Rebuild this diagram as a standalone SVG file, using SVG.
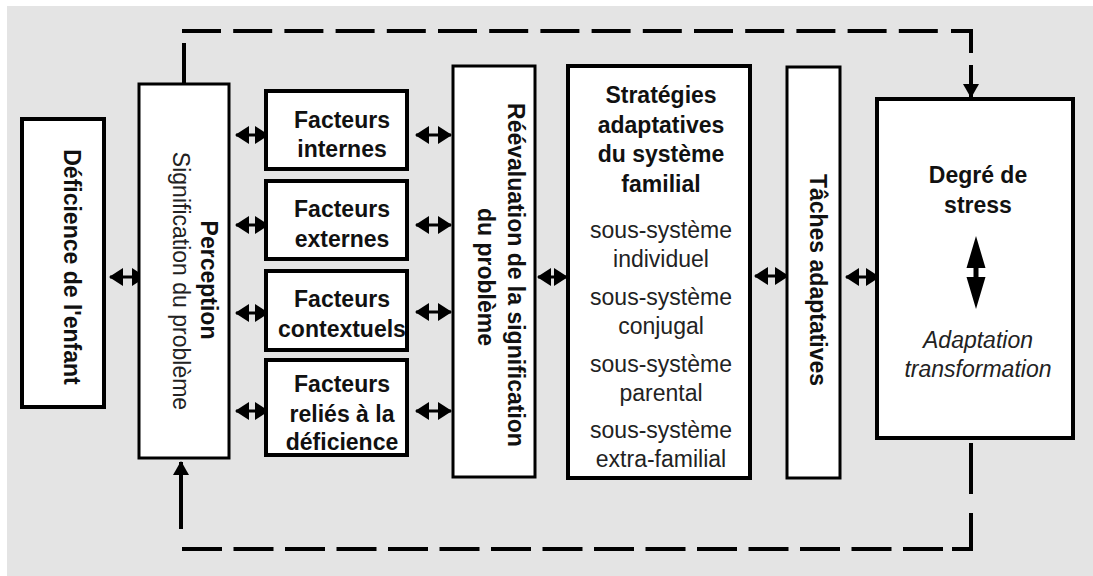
<svg xmlns="http://www.w3.org/2000/svg" width="1093" height="576" viewBox="0 0 1093 576">
<defs>
<style>
.box{fill:#fff;stroke:#000;stroke-width:4}
.thin{stroke-width:3}
.b{font-family:"Liberation Sans",Arial,sans-serif;font-size:23px;font-weight:bold;fill:#111;text-anchor:middle}
.r{font-family:"Liberation Sans",Arial,sans-serif;font-size:23px;fill:#222;text-anchor:middle}
.i{font-style:italic}
.arr{fill:none;stroke:#000;stroke-width:3;marker-start:url(#ah);marker-end:url(#ah)}
.fb{fill:none;stroke:#000;stroke-width:4;stroke-linejoin:miter}
</style>
<marker id="ah" viewBox="0 0 14 18" refX="13" refY="9" markerWidth="14" markerHeight="18" markerUnits="userSpaceOnUse" orient="auto-start-reverse">
<path d="M0,0 L14,9 L0,18 z" fill="#000"/>
</marker>
<marker id="av" viewBox="0 0 14 16" refX="13" refY="8" markerWidth="14" markerHeight="16" markerUnits="userSpaceOnUse" orient="auto">
<path d="M0,0 L14,8 L0,16 z" fill="#000"/>
</marker>
</defs>
<rect x="0" y="0" width="1093" height="576" fill="#fff"/>
<rect x="7" y="6" width="1086" height="570" fill="#e4e4e4"/>

<g id="connectors">
<path class="arr" d="M110,277 H145"/>
<path class="arr" d="M236,135 H268"/>
<path class="arr" d="M236,225 H268"/>
<path class="arr" d="M236,313 H268"/>
<path class="arr" d="M236,411 H268"/>
<path class="arr" d="M416,135 H451"/>
<path class="arr" d="M416,225 H451"/>
<path class="arr" d="M416,312 H451"/>
<path class="arr" d="M416,411 H451"/>
<path class="arr" d="M538,277 H567"/>
<path class="arr" d="M755,276 H788"/>
<path class="arr" d="M846,277 H879"/>
<path class="fb" d="M184,83 V43"/>
<path class="fb" d="M182,31 H940" stroke-dasharray="39 12.2"/>
<path class="fb" d="M951,31 H971 V53"/>
<path class="fb" d="M971,65 V97" stroke-width="3.5" marker-end="url(#av)"/>
<path class="fb" d="M971,443 V494" stroke-width="4.5"/>
<path class="fb" d="M971,513 V549 H952" stroke-width="4.5"/>
<path class="fb" d="M943,549 H180" stroke-width="5" stroke-dasharray="40 11.5"/>
<path class="fb" d="M181,529 V462" stroke-width="3.5" marker-end="url(#av)"/>
</g>

<g id="deficience">
<rect class="box" x="22" y="119" width="82" height="288"/>
<text class="b" transform="translate(64,267) rotate(90)">Déficience de l'enfant</text>
</g>

<g id="perception">
<rect class="box thin" x="139" y="84" width="90" height="374"/>
<text class="b" transform="translate(201,280) rotate(90)">Perception</text>
<text class="r" transform="translate(173,281) rotate(90)">Signification du problème</text>
</g>

<g id="facteurs-internes">
<rect class="box" x="266" y="91" width="141" height="78"/>
<text class="b" x="342" y="128">Facteurs</text>
<text class="b" x="342" y="157">internes</text>
</g>

<g id="facteurs-externes">
<rect class="box" x="266" y="181" width="141" height="78"/>
<text class="b" x="342" y="217">Facteurs</text>
<text class="b" x="342" y="247">externes</text>
</g>

<g id="facteurs-contextuels">
<rect class="box" x="266" y="271" width="141" height="79"/>
<text class="b" x="342" y="307">Facteurs</text>
<text class="b" x="342" y="337">contextuels</text>
</g>

<g id="facteurs-relies">
<rect class="box" x="266" y="360" width="141" height="95"/>
<text class="b" x="342" y="392">Facteurs</text>
<text class="b" x="342" y="422">reliés à la</text>
<text class="b" x="342" y="450">déficience</text>
</g>

<g id="reevaluation">
<rect class="box thin" x="453" y="66" width="82" height="411"/>
<text class="b" transform="translate(508,275) rotate(90)">Réévaluation de la signification</text>
<text class="b" transform="translate(478,277) rotate(90)">du problème</text>
</g>

<g id="strategies">
<rect class="box" x="568" y="66" width="182" height="412"/>
<text class="b" x="661" y="103">Stratégies</text>
<text class="b" x="661" y="133">adaptatives</text>
<text class="b" x="661" y="162">du système</text>
<text class="b" x="661" y="192">familial</text>
<text class="r" x="661" y="238">sous-système</text>
<text class="r" x="661" y="267">individuel</text>
<text class="r" x="661" y="305">sous-système</text>
<text class="r" x="661" y="334">conjugal</text>
<text class="r" x="661" y="372">sous-système</text>
<text class="r" x="661" y="401">parental</text>
<text class="r" x="661" y="438">sous-système</text>
<text class="r" x="661" y="467">extra-familial</text>
</g>

<g id="taches">
<rect class="box thin" x="787" y="67" width="53" height="411"/>
<text class="b" transform="translate(810,280) rotate(90)">Tâches adaptatives</text>
</g>

<g id="degre">
<rect class="box" x="877" y="99" width="196" height="339"/>
<text class="b" x="978" y="183">Degré de</text>
<text class="b" x="978" y="213">stress</text>
<path d="M976,236 L985.5,268 L966.5,268 z M973.5,266 H978.5 V279 H973.5 z M966.5,277 L985.5,277 L976,309 z" fill="#000"/>
<text class="r i" x="978" y="348">Adaptation</text>
<text class="r i" x="978" y="377">transformation</text>
</g>
</svg>
